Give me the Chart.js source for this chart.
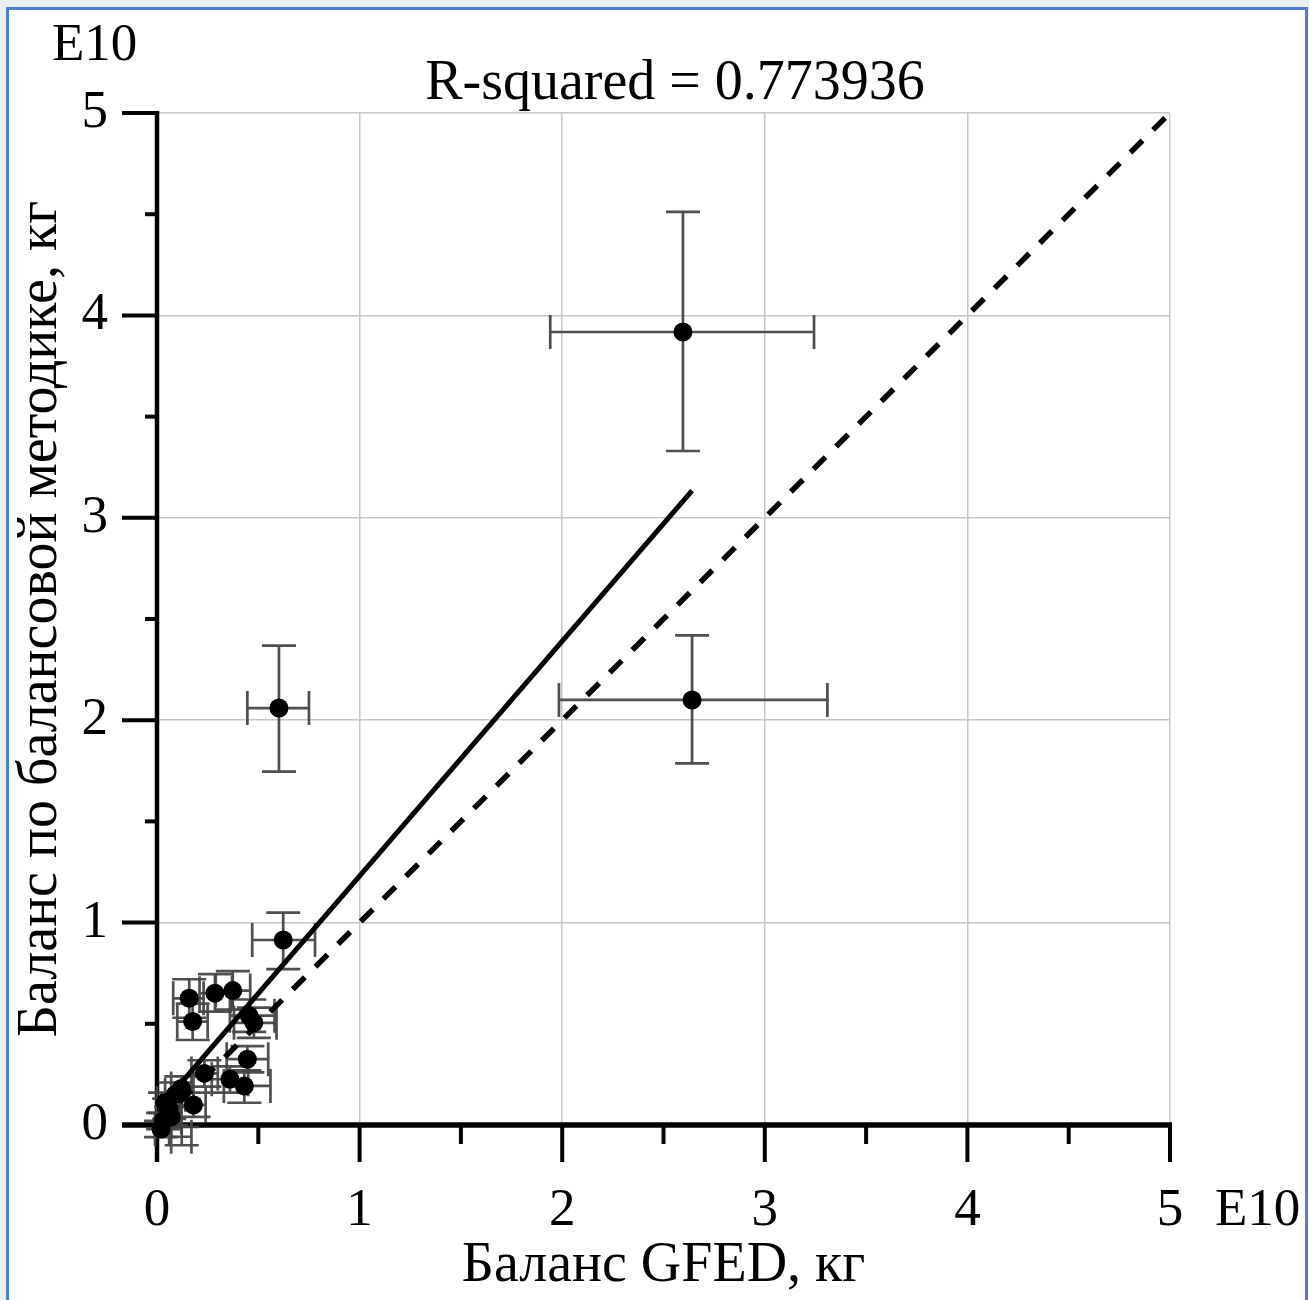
<!DOCTYPE html>
<html><head><meta charset="utf-8">
<script src="https://cdn.jsdelivr.net/npm/chart.js@4.4.0/dist/chart.umd.min.js"></script>
<style>
html,body{margin:0;padding:0;background:#e9eef0;overflow:hidden;}
#frame{position:absolute;left:6px;top:7px;width:1302px;height:1310px;background:#fff;border:3px solid #4d7dd6;box-sizing:border-box;}
#wrap{position:absolute;left:0;top:0;width:1309px;height:1300px;}
</style></head>
<body><div id="frame"></div><div id="wrap"><canvas id="c"></canvas></div>
<script>
// ---- data (units of 1E10 kg) ----
const gfed        = [2.596, 2.641, 0.602, 0.623, 0.159, 0.176, 0.286, 0.374, 0.455, 0.478, 0.446, 0.234, 0.360, 0.431, 0.180, 0.122, 0.03, 0.06, 0.09, 0.12, 0.04, 0.02, 0.07];
const balance     = [3.918, 2.100, 2.060, 0.914, 0.626, 0.511, 0.651, 0.664, 0.540, 0.505, 0.325, 0.255, 0.226, 0.193, 0.099, -0.058, 0.02, 0.08, 0.15, 0.18, 0.11, -0.02, 0.04];
const gfedLow     = [1.941, 1.984, 0.446, 0.470, 0.08, 0.10, 0.21, 0.29, 0.36, 0.38, 0.344, 0.17, 0.27, 0.33, 0.12, 0.07, 0.00, 0.02, 0.04, 0.07, 0.00, -0.01, 0.03];
const gfedHigh    = [3.243, 3.309, 0.750, 0.780, 0.23, 0.25, 0.37, 0.46, 0.58, 0.59, 0.549, 0.30, 0.45, 0.56, 0.24, 0.17, 0.07, 0.11, 0.14, 0.18, 0.09, 0.06, 0.12];
const balanceLow  = [3.330, 1.787, 1.746, 0.770, 0.53, 0.42, 0.56, 0.57, 0.46, 0.43, 0.26, 0.19, 0.16, 0.11, 0.04, -0.10, -0.02, 0.03, 0.09, 0.12, 0.06, -0.06, 0.00];
const balanceHigh = [4.511, 2.419, 2.368, 1.049, 0.72, 0.60, 0.745, 0.76, 0.62, 0.58, 0.39, 0.32, 0.29, 0.27, 0.16, -0.01, 0.06, 0.13, 0.21, 0.24, 0.16, 0.02, 0.09];
const fitX = [0, 2.641];
const fitY = [0.07, 3.134];
const refX = [0, 5];
const refY = [0, 5];
const majorTicks = [0, 1, 2, 3, 4, 5];
const minorTicks = [0.5, 1.5, 2.5, 3.5, 4.5];
const titleText = 'R-squared = 0.773936';
const xTitle = 'Баланс GFED, кг';
const yTitle = 'Баланс по балансовой методике, кг';
const expLabel = 'E10';

const FONT = "'Liberation Serif', 'Times New Roman', serif";
Chart.defaults.font.family = FONT;
Chart.defaults.color = '#000';

const decor = {
  id: 'decor',
  beforeDatasetsDraw(chart) {
    const {ctx, scales: {x, y}} = chart;
    const x0 = x.getPixelForValue(0), y0 = y.getPixelForValue(0);
    const yTop = y.getPixelForValue(5), xRight = x.getPixelForValue(5);
    ctx.save();
    ctx.strokeStyle = '#000';
    ctx.lineCap = 'butt';
    // y ticks
    ctx.lineWidth = 4;
    majorTicks.forEach(v => { const p = y.getPixelForValue(v); ctx.beginPath(); ctx.moveTo(x0 - 35, p); ctx.lineTo(x0, p); ctx.stroke(); });
    minorTicks.forEach(v => { const p = y.getPixelForValue(v); ctx.beginPath(); ctx.moveTo(x0 - 12, p); ctx.lineTo(x0, p); ctx.stroke(); });
    // x ticks
    majorTicks.forEach(v => { const p = x.getPixelForValue(v); ctx.beginPath(); ctx.moveTo(p, y0); ctx.lineTo(p, y0 + 37); ctx.stroke(); });
    minorTicks.forEach(v => { const p = x.getPixelForValue(v); ctx.beginPath(); ctx.moveTo(p, y0); ctx.lineTo(p, y0 + 19); ctx.stroke(); });
    // axis lines
    ctx.lineWidth = 4.5;
    ctx.beginPath(); ctx.moveTo(x0, yTop - 2); ctx.lineTo(x0, y0 + 37); ctx.stroke();
    ctx.lineWidth = 5.5;
    ctx.beginPath(); ctx.moveTo(x0 - 35, y0); ctx.lineTo(xRight + 2, y0); ctx.stroke();
    // error bars
    ctx.strokeStyle = 'rgba(70,70,70,0.95)';
    ctx.lineWidth = 2.7;
    const cap = 17;
    for (let i = 0; i < gfed.length; i++) {
      const px = x.getPixelForValue(gfed[i]), py = y.getPixelForValue(balance[i]);
      const xl = x.getPixelForValue(gfedLow[i]), xh = x.getPixelForValue(gfedHigh[i]);
      const yl = y.getPixelForValue(balanceLow[i]), yh = y.getPixelForValue(balanceHigh[i]);
      ctx.beginPath();
      ctx.moveTo(xl, py); ctx.lineTo(xh, py);
      ctx.moveTo(xl, py - cap); ctx.lineTo(xl, py + cap);
      ctx.moveTo(xh, py - cap); ctx.lineTo(xh, py + cap);
      ctx.moveTo(px, yl); ctx.lineTo(px, yh);
      ctx.moveTo(px - cap, yl); ctx.lineTo(px + cap, yl);
      ctx.moveTo(px - cap, yh); ctx.lineTo(px + cap, yh);
      ctx.stroke();
    }
    ctx.restore();
  },
  afterDraw(chart) {
    const {ctx} = chart;
    ctx.save();
    ctx.fillStyle = '#000';
    ctx.font = '56px ' + FONT;
    ctx.textAlign = 'center';
    ctx.textBaseline = 'alphabetic';
    ctx.fillText(titleText, 675, 99);
    ctx.textAlign = 'left';
    ctx.font = '53px ' + FONT;
    ctx.fillText(expLabel, 52, 60);
    ctx.fillText(expLabel, 1215, 1225);
    ctx.restore();
  }
};

new Chart(document.getElementById('c'), {
  type: 'scatter',
  data: {
    datasets: [
      {
        label: 'points',
        data: gfed.map((v, i) => ({x: v, y: balance[i]})),
        pointRadius: 9.5,
        pointBackgroundColor: '#000',
        pointBorderWidth: 0,
        showLine: false,
        clip: false,
        order: 0
      },
      {
        label: 'fit',
        type: 'line',
        data: fitX.map((v, i) => ({x: v, y: fitY[i]})),
        borderColor: '#000',
        borderWidth: 5,
        pointRadius: 0,
        fill: false,
        order: 1
      },
      {
        label: '1:1',
        type: 'line',
        data: refX.map((v, i) => ({x: v, y: refY[i]})),
        borderColor: '#000',
        borderWidth: 5.5,
        borderDash: [17, 15],
        pointRadius: 0,
        fill: false,
        clip: false,
        order: 2
      }
    ]
  },
  options: {
    responsive: true,
    maintainAspectRatio: false,
    devicePixelRatio: 1,
    animation: false,
    events: [],
    layout: {padding: {top: 113, right: 139, bottom: 0, left: 0}},
    plugins: {legend: {display: false}, tooltip: {enabled: false}, title: {display: false}},
    scales: {
      x: {
        type: 'linear', min: 0, max: 5,
        afterFit(s) { s.height = 175; },
        ticks: {stepSize: 1, padding: 54, font: {size: 53}, color: '#000', maxRotation: 0},
        grid: {color: '#c6c6c6', lineWidth: 1.5, drawTicks: false},
        border: {display: false},
        title: {display: true, text: xTitle, font: {size: 56}, color: '#000', padding: {top: 0, bottom: 0}}
      },
      y: {
        type: 'linear', min: 0, max: 5,
        afterFit(s) { s.width = 157; },
        ticks: {stepSize: 1, padding: 49, font: {size: 53}, color: '#000'},
        grid: {color: '#c6c6c6', lineWidth: 1.5, drawTicks: false},
        border: {display: false},
        title: {display: true, text: yTitle, font: {size: 56}, color: '#000', padding: {top: 8, bottom: 0}}
      }
    }
  },
  plugins: [decor]
});
</script></body></html>
